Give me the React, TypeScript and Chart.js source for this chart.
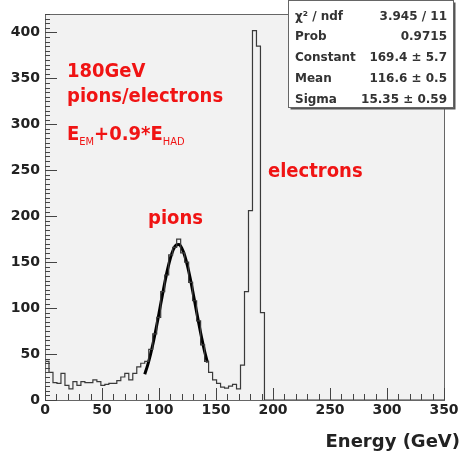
import React, { useEffect, useRef } from 'react';
import { Chart, registerables } from 'chart.js';
Chart.register(...registerables);

// Histogram: 100 bins of 3.5 GeV from 0 to 350 GeV
const binWidth = 3.5;
const xMin = 0;
const xMax = 350;
const yMin = 0;
const yMax = 420;
const binCounts = [
  42, 30, 19, 18, 29, 16, 12, 20, 16, 20,
  19, 19, 22, 20, 16, 17, 18, 18, 21, 25,
  29, 22, 29, 36, 40, 42, 55, 72, 90, 118,
  136, 158, 166, 175, 160, 150, 128, 108, 86, 60,
  42, 30, 22, 18, 14, 13, 15, 17, 12, 38,
  118, 206, 402, 385, 95, 0, 0, 0, 0, 0,
  0, 0, 0, 0, 0, 0, 0, 0, 0, 0,
  0, 0, 0, 0, 0, 0, 0, 0, 0, 0,
  0, 0, 0, 0, 0, 0, 0, 0, 0, 0,
  0, 0, 0, 0, 0, 0, 0, 0, 0, 0,
];

// Gaussian fit curve as drawn (x in GeV, y in counts)
const fitX = [87.5, 90, 92.5, 95, 97.5, 100, 102.5, 105, 107.5, 110, 112.5, 115, 117.5, 120, 122.5, 125, 127.5, 130, 132.5, 135, 137.5, 140, 142.5];
const fitY = [28.1, 37.7, 49.4, 62.9, 78.1, 94.4, 111.1, 127.3, 142.1, 154.4, 163.5, 168.5, 169.1, 165.3, 157.3, 145.8, 131.7, 115.7, 99.1, 82.6, 67.0, 53.0, 40.8];

const xTickLabels = [0, 50, 100, 150, 200, 250, 300, 350];
const yTickLabels = [0, 50, 100, 150, 200, 250, 300, 350, 400];

const statsLabels = ['\u03C7\u00B2 / ndf', 'Prob', 'Constant', 'Mean', 'Sigma'];
const statsValues = ['3.945 / 11', '0.9715', '169.4 \u00B1 5.7', '116.6 \u00B1 0.5', '15.35 \u00B1 0.59'];

const annotTitle = '180GeV';
const annotSub = 'pions/electrons';
const annotPions = 'pions';
const annotElectrons = 'electrons';
const xAxisTitle = 'Energy (GeV)';

const FONT = "'DejaVu Sans', sans-serif";
const RED_FONT = "'DejaVu Sans Condensed', 'DejaVu Sans', sans-serif";
const RED = '#f01414';

const decorPlugin = {
  id: 'decor',
  beforeDatasetsDraw(chart: any) {
    const { ctx, chartArea } = chart;
    ctx.save();
    ctx.fillStyle = '#f2f2f2';
    ctx.fillRect(chartArea.left, chartArea.top, chartArea.right - chartArea.left, chartArea.bottom - chartArea.top);
    ctx.restore();
  },
  afterDatasetsDraw(chart: any) {
    const { ctx, chartArea, scales } = chart;
    const xs = scales.x;
    const ys = scales.y;
    ctx.save();
    // frame
    ctx.strokeStyle = '#666';
    ctx.lineWidth = 1;
    ctx.strokeRect(Math.round(chartArea.left) + 0.5, Math.round(chartArea.top) + 0.5,
      Math.round(chartArea.right - chartArea.left), Math.round(chartArea.bottom - chartArea.top));
    // x ticks (inside, bottom)
    ctx.strokeStyle = '#444';
    ctx.beginPath();
    for (let v = xMin; v <= xMax; v += 10) {
      const px = Math.round(xs.getPixelForValue(v)) + 0.5;
      const len = v % 50 === 0 ? 12 : 6;
      ctx.moveTo(px, chartArea.bottom);
      ctx.lineTo(px, chartArea.bottom - len);
    }
    // y ticks (inside, left)
    for (let v = yMin; v <= yMax; v += 5) {
      const py = Math.round(ys.getPixelForValue(v)) + 0.5;
      const len = v % 50 === 0 ? 12 : 5;
      ctx.moveTo(chartArea.left, py);
      ctx.lineTo(chartArea.left + len, py);
    }
    ctx.stroke();
    ctx.restore();
  },
  afterDraw(chart: any) {
    const { ctx } = chart;
    ctx.save();
    // red annotations
    ctx.fillStyle = RED;
    ctx.textBaseline = 'alphabetic';
    ctx.textAlign = 'left';
    ctx.font = `bold 20px ${RED_FONT}`;
    ctx.fillText(annotTitle, 67, 77);
    ctx.fillText(annotSub, 67, 102);
    // E_EM + 0.9 * E_HAD
    let x = 67;
    const yb = 140;
    const parts: [string, boolean][] = [['E', false], ['EM', true], ['+0.9*E', false], ['HAD', true]];
    for (const [t, sub] of parts) {
      ctx.font = sub ? `11px ${RED_FONT}` : `bold 20px ${RED_FONT}`;
      ctx.fillText(t, x, sub ? yb + 5 : yb);
      x += ctx.measureText(t).width;
    }
    ctx.font = `bold 20px ${RED_FONT}`;
    ctx.fillText(annotElectrons, 268, 177);
    ctx.fillText(annotPions, 148, 224);

    // x axis title
    ctx.fillStyle = '#222';
    ctx.font = `bold 18px ${FONT}`;
    ctx.textAlign = 'right';
    ctx.fillText(xAxisTitle, 460, 447);

    // stats box
    const bx = 288.5, by = 0.5, bw = 165, bh = 107;
    ctx.fillStyle = '#555';
    ctx.fillRect(bx + 2, by + 2, bw, bh);
    ctx.fillStyle = '#ffffff';
    ctx.fillRect(bx, by, bw, bh);
    ctx.strokeStyle = '#666';
    ctx.lineWidth = 1;
    ctx.strokeRect(bx, by, bw, bh);
    ctx.fillStyle = '#333';
    ctx.font = `bold 12px ${FONT}`;
    for (let i = 0; i < statsLabels.length; i++) {
      const yy = 19.5 + i * 20.8;
      ctx.textAlign = 'left';
      ctx.fillText(statsLabels[i], 295, yy);
      ctx.textAlign = 'right';
      ctx.fillText(statsValues[i], 447, yy);
    }
    ctx.restore();
  },
};

export default function App() {
  const canvasRef = useRef<HTMLCanvasElement | null>(null);

  useEffect(() => {
    if (!canvasRef.current) return;
    const histData = binCounts.map((c, k) => ({ x: xMin + k * binWidth, y: c }));
    histData.push({ x: xMin + binCounts.length * binWidth, y: 0 });
    const fitData = fitX.map((v, i) => ({ x: v, y: fitY[i] }));

    const chart = new Chart(canvasRef.current, {
      type: 'line',
      data: {
        datasets: [
          {
            data: histData,
            borderColor: '#3a3a3a',
            borderWidth: 1.2,
            pointRadius: 0,
            stepped: true,
            fill: false,
          },
          {
            data: fitData,
            borderColor: '#000000',
            borderWidth: 3,
            pointRadius: 0,
            tension: 0.4,
            cubicInterpolationMode: 'monotone',
            fill: false,
          },
        ],
      },
      options: {
        animation: false,
        responsive: false,
        events: [],
        layout: { padding: { left: 0, top: 14, right: 18, bottom: 0 } },
        plugins: { legend: { display: false }, tooltip: { enabled: false }, title: { display: false } },
        scales: {
          x: {
            type: 'linear',
            min: xMin,
            max: xMax,
            grid: { display: false, drawTicks: false },
            border: { display: false },
            afterBuildTicks: (s: any) => { s.ticks = xTickLabels.map((v) => ({ value: v })); },
            afterFit: (s: any) => { s.height = 55; },
            ticks: {
              maxRotation: 0,
              autoSkip: false,
              padding: 2,
              color: '#222',
              font: { family: FONT, weight: 'bold', size: 14 },
            },
          },
          y: {
            type: 'linear',
            min: yMin,
            max: yMax,
            grid: { display: false, drawTicks: false },
            border: { display: false },
            afterBuildTicks: (s: any) => { s.ticks = yTickLabels.map((v) => ({ value: v })); },
            afterFit: (s: any) => { s.width = 45; },
            ticks: {
              padding: 5,
              color: '#222',
              font: { family: FONT, weight: 'bold', size: 14 },
            },
          },
        },
      },
      plugins: [decorPlugin],
    } as any);
    return () => chart.destroy();
  }, []);

  return (
    <div style={{ position: 'absolute', left: 0, top: 0, width: 462, height: 455, background: '#ffffff' }}>
      <canvas ref={canvasRef} width={462} height={455} style={{ width: 462, height: 455, display: 'block' }} />
    </div>
  );
}
